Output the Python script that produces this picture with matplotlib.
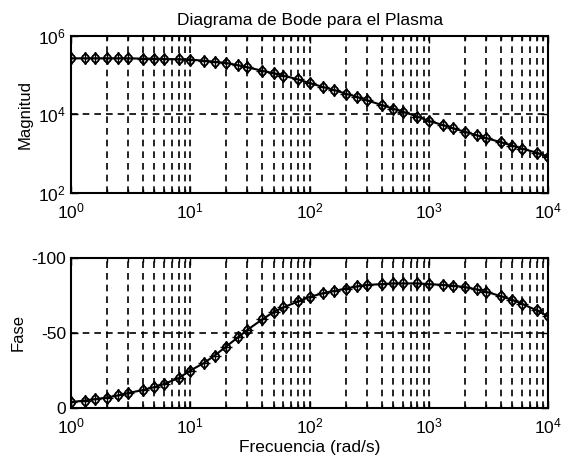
import matplotlib
matplotlib.use("Agg")
import matplotlib.pyplot as plt
import numpy as np
from matplotlib.ticker import LogLocator, NullLocator, NullFormatter

plt.rcParams['font.family'] = ['Liberation Sans', 'DejaVu Sans']
plt.rcParams['mathtext.fontset'] = 'custom'
plt.rcParams['mathtext.rm'] = 'Liberation Sans'
plt.rcParams['mathtext.it'] = 'Liberation Sans'
plt.rcParams['axes.unicode_minus'] = False

# frequency points (rad/s)
freq = [1, 1.3, 1.6, 2, 2.5, 3, 4, 5, 6, 8,
        10, 13, 16, 20, 25, 30, 40, 50, 60, 80,
        100, 130, 160, 200, 250, 300, 400, 500, 600, 800,
        1000, 1300, 1600, 2000, 2500, 3000, 4000, 5000, 6000, 8000, 10000]

magnitude = [2.7e5, 2.7e5, 2.7e5, 2.7e5, 2.7e5, 2.7e5, 2.65e5, 2.65e5, 2.6e5, 2.55e5,
             2.5e5, 2.35e5, 2.2e5, 2.05e5, 1.8e5, 1.6e5, 1.3e5, 1.12e5, 9.8e4, 7.8e4,
             6.3e4, 5.0e4, 4.2e4, 3.4e4, 2.8e4, 2.3e4, 1.75e4, 1.4e4, 1.18e4, 8.8e3,
             6.8e3, 5.4e3, 4.4e3, 3.6e3, 2.95e3, 2.5e3, 1.95e3, 1.6e3, 1.35e3, 1.05e3, 840]

phase = [-4, -5, -6, -7, -8.5, -10, -12, -14, -16, -20,
         -25, -30, -35, -41, -47, -52, -59, -64, -67, -71,
         -74, -76.5, -78, -79.5, -81, -82, -82.5, -83, -83, -83,
         -82.5, -82, -81.5, -80.5, -79, -77.5, -74.5, -72, -69.5, -65, -61]

fig = plt.figure(figsize=(5.63, 4.68), dpi=100)
ax1 = fig.add_axes([0.126, 0.588, 0.848, 0.335])
ax2 = fig.add_axes([0.126, 0.128, 0.848, 0.321])

grid_kw = dict(color='black', linestyle=(0, (4, 3)), linewidth=1.2)

for ax, y in ((ax1, magnitude), (ax2, phase)):
    ax.plot(freq, y, color='black', linewidth=1.5, zorder=3)
    ax.plot(freq, y, linestyle='none', marker='o', markersize=5.5, mfc='none',
            mec='black', mew=1.0, zorder=4)
    ax.plot(freq, y, linestyle='none', marker='d', markersize=6, mfc='none',
            mec='black', mew=1.0, zorder=4)
    ax.plot(freq, y, linestyle='none', marker='+', markersize=8,
            color='black', mew=1.0, zorder=4)
    ax.set_xscale('log')
    ax.set_xlim(1, 1e4)
    ax.xaxis.set_major_locator(LogLocator(base=10, numticks=10))
    ax.xaxis.set_minor_locator(LogLocator(base=10, subs=np.arange(2, 10), numticks=20))
    ax.xaxis.set_minor_formatter(NullFormatter())
    ax.grid(True, which='both', axis='x', **grid_kw)
    ax.grid(True, which='major', axis='y', **grid_kw)
    ax.tick_params(which='both', direction='in', top=True, right=True,
                   labelsize=12.5, width=1.0)
    ax.tick_params(which='major', length=5)
    ax.tick_params(which='minor', length=3)
    ax.tick_params(axis='x', pad=6)
    for s in ax.spines.values():
        s.set_linewidth(1.5)
    ax.set_axisbelow(True)

ax1.set_yscale('log')
ax1.set_ylim(1e2, 1e6)
ax1.set_yticks([1e2, 1e4, 1e6])
ax1.yaxis.set_minor_locator(NullLocator())
ax1.set_ylabel('Magnitud', fontsize=12)
ax1.set_title('Diagrama de Bode para el Plasma', fontsize=12.5, pad=8)

ax2.set_ylim(0, -100)
ax2.set_yticks([0, -50, -100])
ax2.set_ylabel('Fase', fontsize=12)
ax2.set_xlabel('Frecuencia (rad/s)', fontsize=12.5, labelpad=3)

fig.savefig('out.png', dpi=100)
